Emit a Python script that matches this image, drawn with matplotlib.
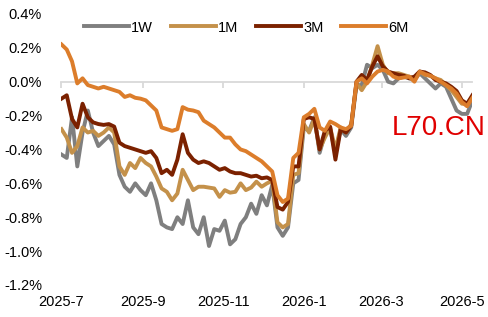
import pandas as pd
import matplotlib
matplotlib.use("Agg")
import matplotlib.pyplot as plt
from matplotlib.ticker import FuncFormatter

plt.rcParams['font.family'] = ['Liberation Sans', 'DejaVu Sans']

# sample dates (every 4 days from 2025-07-01)
dates = pd.date_range('2025-07-01', periods=79, freq='4D')

# values in %
w1 = [-0.43, -0.45, -0.21, -0.50, -0.30, -0.17, -0.30, -0.38, -0.35, -0.32,
      -0.37, -0.55, -0.62, -0.65, -0.60, -0.64, -0.67, -0.60, -0.70, -0.84,
      -0.86, -0.87, -0.80, -0.84, -0.70, -0.86, -0.90, -0.80, -0.97, -0.87,
      -0.88, -0.82, -0.96, -0.93, -0.84, -0.80, -0.72, -0.78, -0.67, -0.73,
      -0.61, -0.86, -0.91, -0.86, -0.60, -0.58, -0.27, -0.29, -0.21, -0.42,
      -0.31, -0.28, -0.42, -0.28, -0.32, -0.27, -0.02, -0.02, 0.10, 0.08,
      0.10, 0.07, 0.00, -0.01, 0.02, 0.03, 0.02, 0.01, 0.05, 0.02,
      -0.01, -0.04, -0.01, -0.03, -0.10, -0.17, -0.19, -0.19, -0.11]

m1 = [-0.28, -0.33, -0.42, -0.38, -0.27, -0.30, -0.29, -0.32, -0.30, -0.27,
      -0.30, -0.50, -0.55, -0.48, -0.51, -0.45, -0.48, -0.50, -0.56, -0.63,
      -0.65, -0.70, -0.66, -0.52, -0.58, -0.64, -0.62, -0.62, -0.625, -0.63,
      -0.68, -0.64, -0.655, -0.65, -0.60, -0.64, -0.625, -0.59, -0.62, -0.60,
      -0.585, -0.83, -0.86, -0.84, -0.55, -0.54, -0.25, -0.30, -0.22, -0.40,
      -0.33, -0.27, -0.40, -0.27, -0.30, -0.25, -0.01, -0.05, 0.00, 0.10,
      0.21, 0.10, 0.05, 0.05, 0.05, 0.04, 0.03, 0.02, 0.06, 0.04,
      0.035, 0.02, 0.01, -0.02, -0.05, -0.09, -0.13, -0.13, -0.09]

m3 = [-0.10, -0.08, -0.22, -0.27, -0.13, -0.21, -0.24, -0.25, -0.255, -0.25,
      -0.265, -0.36, -0.38, -0.39, -0.40, -0.41, -0.42, -0.41, -0.45, -0.54,
      -0.52, -0.55, -0.46, -0.31, -0.42, -0.46, -0.48, -0.47, -0.48, -0.50,
      -0.52, -0.51, -0.53, -0.54, -0.54, -0.55, -0.56, -0.555, -0.57, -0.565,
      -0.58, -0.74, -0.755, -0.71, -0.50, -0.50, -0.22, -0.21, -0.22, -0.40,
      -0.29, -0.265, -0.46, -0.28, -0.30, -0.26, 0.00, 0.04, 0.01, 0.09,
      0.15, 0.09, 0.06, 0.05, 0.04, 0.035, 0.02, 0.03, 0.06, 0.055,
      0.04, 0.01, 0.00, -0.01, -0.03, -0.055, -0.11, -0.13, -0.08]

m6 = [0.22, 0.19, 0.12, -0.01, 0.02, -0.02, -0.03, -0.04, -0.03, -0.04,
      -0.05, -0.06, -0.09, -0.08, -0.095, -0.10, -0.11, -0.14, -0.17, -0.27,
      -0.28, -0.29, -0.28, -0.15, -0.165, -0.17, -0.18, -0.23, -0.25, -0.27,
      -0.30, -0.33, -0.33, -0.37, -0.40, -0.41, -0.43, -0.45, -0.47, -0.50,
      -0.53, -0.67, -0.71, -0.69, -0.45, -0.42, -0.21, -0.19, -0.16, -0.27,
      -0.29, -0.235, -0.25, -0.27, -0.28, -0.26, 0.00, 0.02, -0.01, 0.03,
      0.06, 0.07, 0.06, 0.03, 0.02, 0.025, 0.03, 0.00, 0.06, 0.045,
      0.035, 0.02, 0.00, -0.02, -0.04, -0.07, -0.12, -0.145, -0.095]

labels = ['1W', '1M', '3M', '6M']
colors = ['#7F7F7F', '#C4914A', '#7B2100', '#DC7D2B']
tick_dates = pd.to_datetime(['2025-07-01', '2025-09-01', '2025-11-01',
                             '2026-01-01', '2026-03-01', '2026-05-01'])
tick_labels = ['2025-7', '2025-9', '2025-11', '2026-1', '2026-3', '2026-5']

fig = plt.figure(figsize=(4.88, 3.17), dpi=100)
ax = fig.add_axes([0.126, 0.101, 0.842, 0.855])

for vals, lab, c in zip([w1, m1, m3, m6], labels, colors):
    ax.plot(dates, vals, color=c, lw=2.8, label=lab, zorder=3,
            solid_joinstyle='round')

ax.set_ylim(-1.2, 0.4)
ax.set_yticks([-1.2, -1.0, -0.8, -0.6, -0.4, -0.2, 0.0, 0.2, 0.4])
ax.yaxis.set_major_formatter(FuncFormatter(lambda v, p: f'{v:.1f}%'))
ax.set_xlim(dates[0], dates[-1])

# only the zero line is drawn, with month ticks hanging from it
for s in ['top', 'right', 'left']:
    ax.spines[s].set_visible(False)
ax.spines['bottom'].set_position(('data', 0))
ax.spines['bottom'].set_color('#D9D9D9')
ax.spines['bottom'].set_linewidth(1.3)
ax.spines['bottom'].set_zorder(1)
ax.set_xticks(tick_dates)
ax.tick_params(axis='x', length=4, width=1.3, color='#D9D9D9', labelbottom=False)
ax.tick_params(axis='y', length=0, pad=14, labelsize=10.5)

# date labels sit at the bottom of the plot
sec = ax.secondary_xaxis('bottom')
sec.set_xticks(tick_dates, tick_labels)
sec.spines['bottom'].set_visible(False)
sec.tick_params(length=0, pad=7, labelsize=10.5)

fig.legend(loc='center', bbox_to_anchor=(0.505, 0.913), ncol=4, frameon=False,
           fontsize=10.5, handlelength=3.1, handletextpad=0.15, columnspacing=1.2)

fig.text(0.898, 0.596, 'L70.CN', color='#E00000', fontsize=20,
         ha='center', va='center')

fig.savefig('out.png', dpi=100)
